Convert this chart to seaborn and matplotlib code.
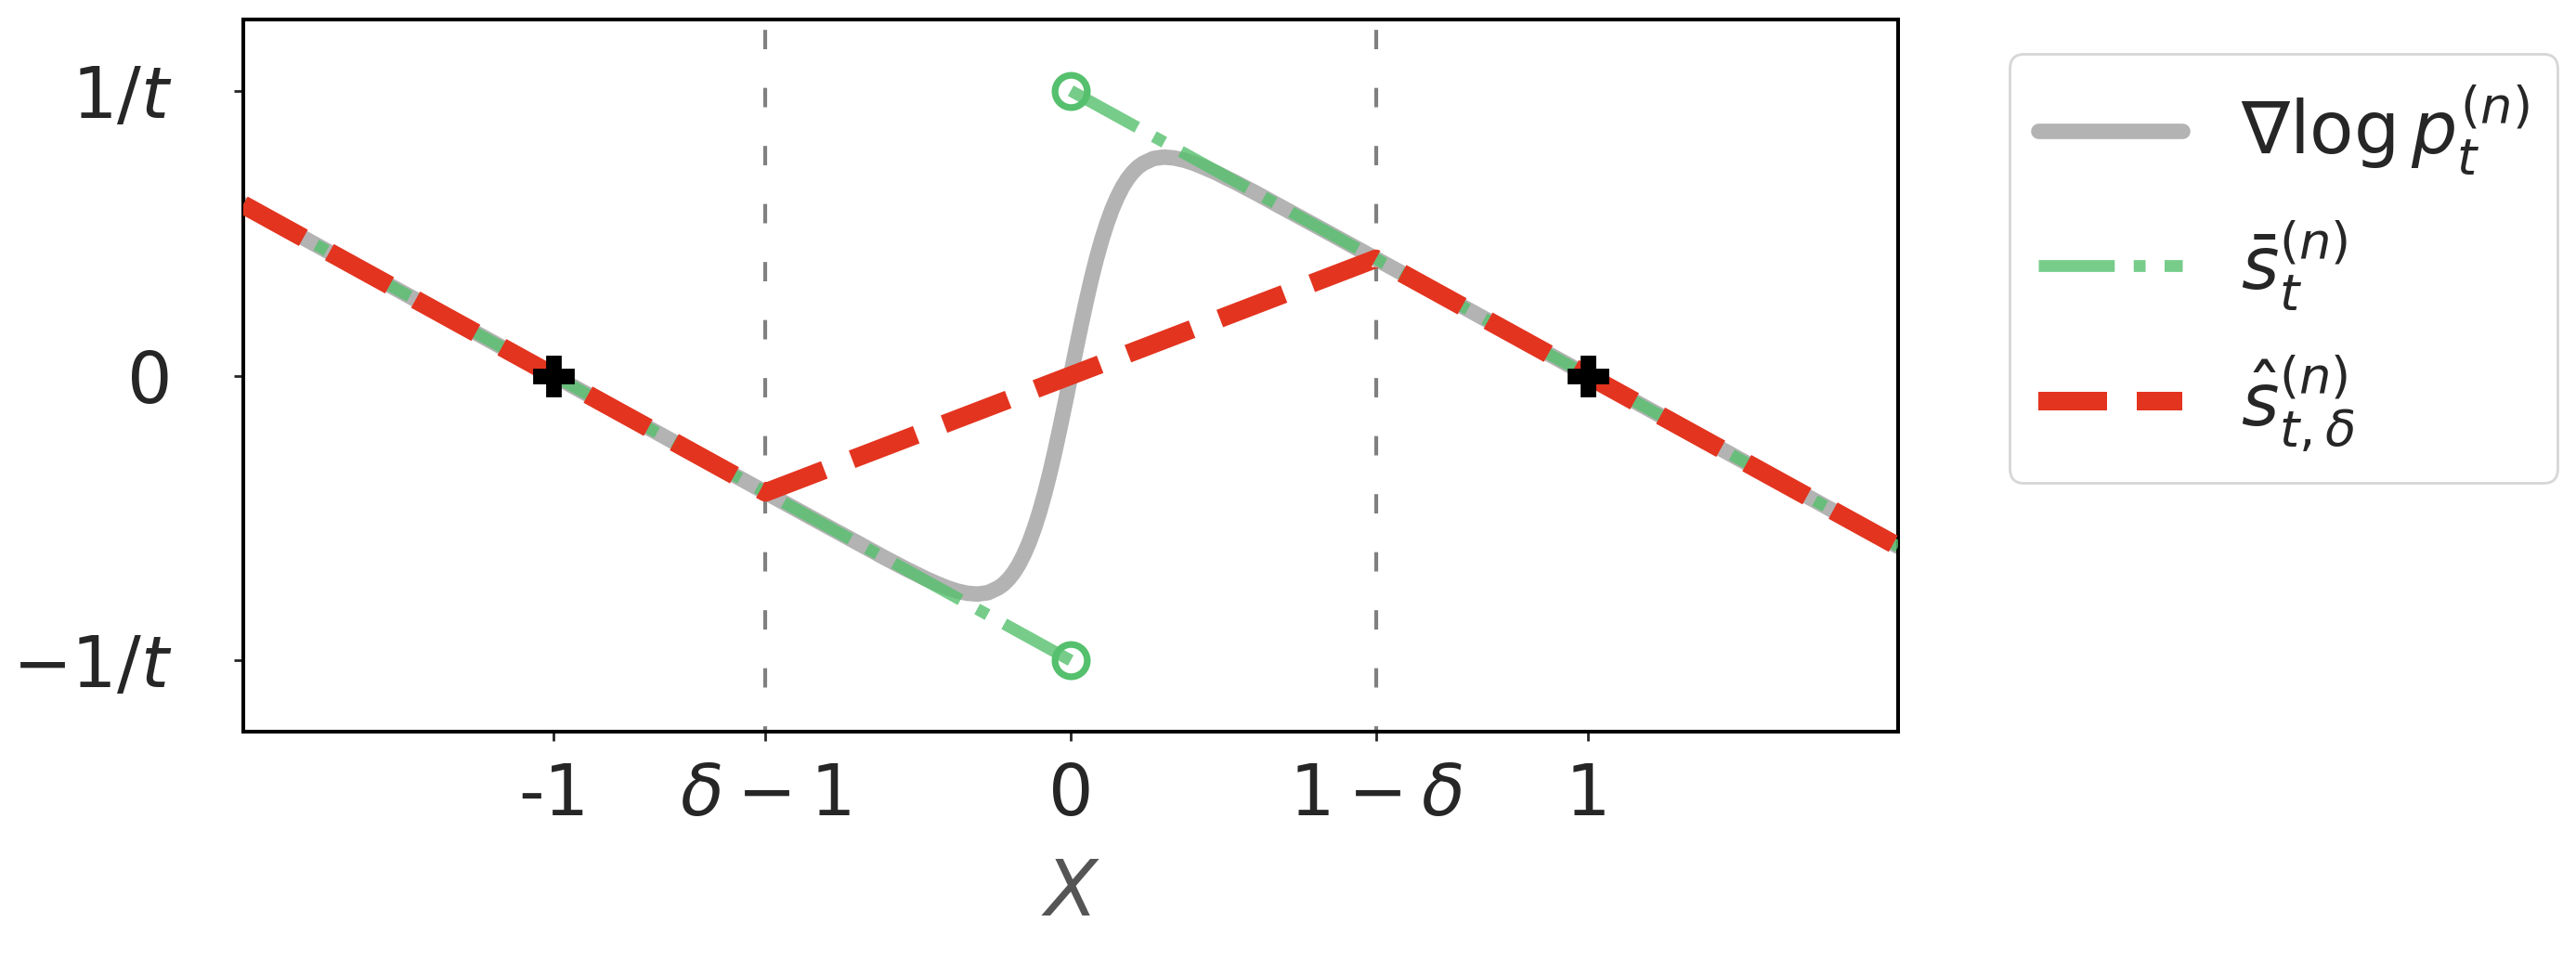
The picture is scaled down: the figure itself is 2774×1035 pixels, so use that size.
import matplotlib
matplotlib.use("Agg")
import matplotlib.pyplot as plt
import seaborn as sns

# grey curve: score of the smoothed density
grad_x = [-1.6, -0.6, -0.5, -0.4, -0.38, -0.36, -0.34, -0.32, -0.30, -0.28,
          -0.26, -0.24, -0.22, -0.20, -0.18, -0.16, -0.14, -0.13, -0.12, -0.11,
          -0.10, -0.09, -0.08, -0.07, -0.06, -0.05, -0.04, -0.03, -0.02, -0.01,
          0.0, 0.01, 0.02, 0.03, 0.04, 0.05, 0.06, 0.07, 0.08, 0.09,
          0.10, 0.11, 0.12, 0.13, 0.14, 0.16, 0.18, 0.20, 0.22, 0.24,
          0.26, 0.28, 0.30, 0.32, 0.34, 0.36, 0.38, 0.40, 0.5, 0.6, 1.6]
grad_y = [0.6, -0.4, -0.5, -0.599, -0.619, -0.639, -0.658, -0.677, -0.695, -0.713,
          -0.729, -0.744, -0.756, -0.764, -0.767, -0.762, -0.745, -0.732, -0.714, -0.691,
          -0.662, -0.626, -0.584, -0.534, -0.477, -0.412, -0.340, -0.261, -0.177, -0.090,
          0.0, 0.090, 0.177, 0.261, 0.340, 0.412, 0.477, 0.534, 0.584, 0.626,
          0.662, 0.691, 0.714, 0.732, 0.745, 0.762, 0.767, 0.764, 0.756, 0.744,
          0.729, 0.713, 0.695, 0.677, 0.658, 0.639, 0.619, 0.599, 0.5, 0.4, -0.6]

# green piecewise score, each branch starts at its open circle
sbar_left_x = [0.0, -1.6]
sbar_left_y = [-1.0, 0.6]
sbar_right_x = [0.0, 1.6]
sbar_right_y = [1.0, -0.6]

# red truncated estimator
shat_x = [-1.6, -0.59, 0.59, 1.6]
shat_y = [0.6, -0.41, 0.41, -0.6]

hole_x = [0.0, 0.0]
hole_y = [1.0, -1.0]
root_x = [-1.0, 1.0]
root_y = [0.0, 0.0]

vline_x = [-0.59, 0.59]

xtick_pos = [-1, -0.59, 0, 0.59, 1]
xtick_labels = ['-1', r'$\delta-1$', '0', r'$1-\delta$', '1']
ytick_pos = [1, 0, -1]
ytick_labels = [r'$1/t$', '0', r'$-1/t$']

GREY = '#b3b3b3'
GREEN = '#55c06d'
RED = '#e3341f'

sns.set_style('ticks')
plt.rcParams['font.family'] = ['DejaVu Sans']
plt.rcParams['mathtext.fontset'] = 'dejavusans'

fig = plt.figure(figsize=(13.87, 5.175), dpi=200)
ax = fig.add_axes([0.0944, 0.2386, 0.6425, 0.7411])

ax.vlines(vline_x, -1.3, 1.3, colors='gray', linewidth=1.5,
          linestyles=(0, (5, 10)), zorder=1)

sns.lineplot(x=grad_x, y=grad_y, color=GREY, linewidth=6, ax=ax,
             label=r'$\nabla \log p_t^{(n)}$', zorder=2)
sns.lineplot(x=sbar_left_x, y=sbar_left_y, sort=False, color=GREEN, alpha=0.8,
             linewidth=4.6, linestyle='-.', ax=ax, label=r'$\bar{s}_t^{(n)}$', zorder=3)
sns.lineplot(x=sbar_right_x, y=sbar_right_y, sort=False, color=GREEN, alpha=0.8,
             linewidth=4.6, linestyle='-.', ax=ax, zorder=3)
sns.lineplot(x=shat_x, y=shat_y, sort=False, color=RED, linewidth=7.2,
             linestyle='--', ax=ax, label=r'$\hat{s}_{t,\delta}^{(n)}$', zorder=4)

ax.plot(hole_x, hole_y, 'o', ms=12.5, mfc='none', mec=GREEN, mew=2.6, zorder=5)
ax.plot(root_x, root_y, 'P', ms=15, color='black', zorder=6)

ax.set_xlim(-1.6, 1.6)
ax.set_ylim(-1.25, 1.25)
ax.set_xticks(xtick_pos)
ax.set_xticklabels(xtick_labels)
ax.set_yticks(ytick_pos)
ax.set_yticklabels(ytick_labels)
ax.tick_params(axis='both', labelsize=27.5, length=3.5, width=1, colors='.15')
ax.tick_params(axis='x', pad=8)
ax.tick_params(axis='y', pad=24)
ax.set_xlabel(r'$X$', fontsize=30, color='#555555', labelpad=10)
ax.set_ylabel('')

for side in ['top', 'right', 'bottom', 'left']:
    ax.spines[side].set_visible(True)
    ax.spines[side].set_color('black')
    ax.spines[side].set_linewidth(1.45)

ax.legend(loc='upper left', bbox_to_anchor=(0.780, 0.944),
          bbox_transform=fig.transFigure, borderaxespad=0,
          fontsize=28, frameon=True, labelspacing=0.54)

fig.savefig('out.png', dpi=200)
